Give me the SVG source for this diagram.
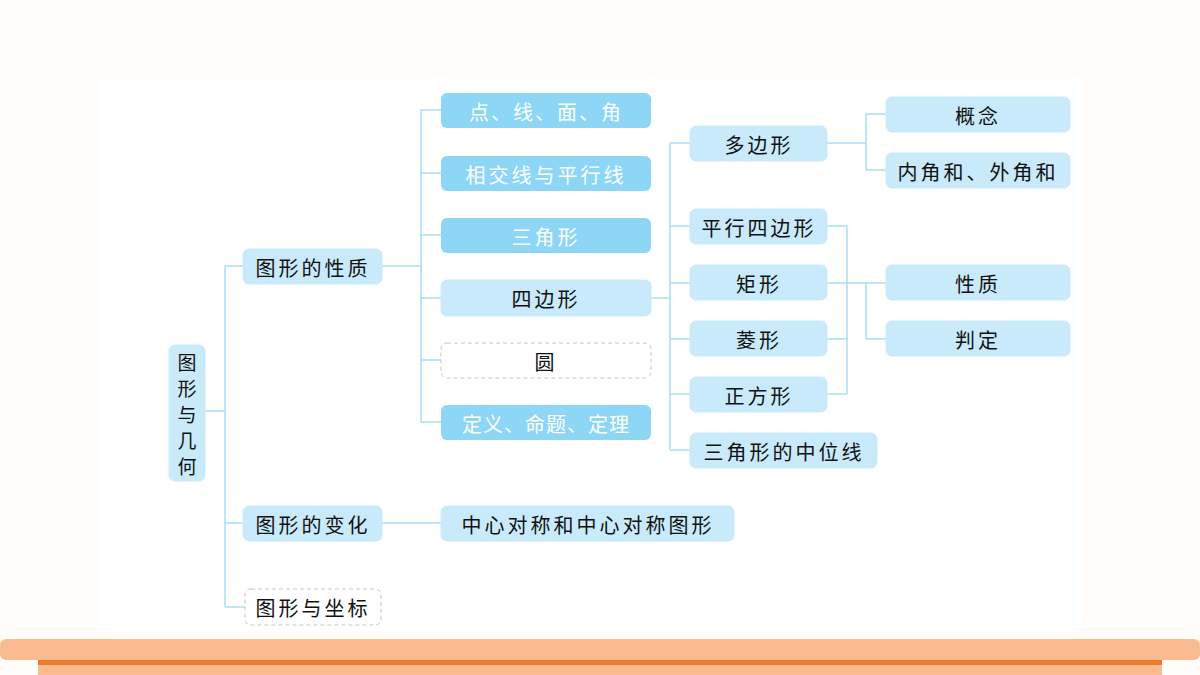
<svg xmlns="http://www.w3.org/2000/svg" width="1200" height="675" viewBox="0 0 1200 675">
<style>
.n{fill:#c8eafa;stroke:#c8eafa}
.d{fill:#8dd6f5}
.x{fill:#fff;stroke:#c4c4c4;stroke-dasharray:4 3}
text{font-family:"Noto Sans CJK SC",sans-serif;font-size:20px;text-anchor:middle;dominant-baseline:central;fill:#111;letter-spacing:3px}
.v{letter-spacing:0;font-size:19px}
.w{fill:#fff}
.c{fill:none;stroke:#a9def6;stroke-width:1.5}
</style>
<rect width="1200" height="675" fill="#fffcf9"/>
<rect x="100" y="78" width="982" height="554" fill="#fff"/>
<rect x="0" y="639" width="1200" height="21" rx="6" fill="#f9bb8f"/>
<rect x="38" y="660" width="1124" height="15" fill="#f9bb8f"/>
<rect x="38" y="660" width="1124" height="5" fill="#ee7a30"/>
<g id="connectors" class="c">
<path d="M205 411H225M225 266V607M225 266H243M225 523H243M225 607H245"/>
<path d="M382 266H421M421 110V422M421 110H441M421 173H441M421 235H441M421 298H441M421 360H441M421 422H441"/>
<path d="M382 523H441"/>
<path d="M651 298H670M670 143V450M670 143H690M670 226H690M670 283H690M670 339H690M670 394H690M670 450H690"/>
<path d="M827 143H866M866 114V170M866 114H886M866 170H886"/>
<path d="M827 226H847M827 283H847M827 339H847M827 394H847M847 226V394M847 283H866M866 283V339M866 283H886M866 339H886"/>
</g>
<g id="root"><rect class="n" x="169" y="345" width="36" height="136" rx="6"/>
<text class="v" x="187" y="361">图</text><text class="v" x="187" y="387">形</text><text class="v" x="187" y="413">与</text><text class="v" x="187" y="439">几</text><text class="v" x="187" y="465">何</text></g>
<g id="xz"><rect class="n" x="243" y="249" width="139" height="35" rx="6"/><text x="313" y="267">图形的性质</text></g>
<g id="bh"><rect class="n" x="243" y="506" width="139" height="35" rx="6"/><text x="313" y="524">图形的变化</text></g>
<g id="zb"><rect class="x" x="245" y="589" width="136" height="36" rx="6"/><text x="313" y="607">图形与坐标</text></g>
<g id="a1"><rect class="d" x="441" y="93" width="210" height="35" rx="6"/><text class="w" x="546" y="111" style="letter-spacing:2px">点、线、面、角</text></g>
<g id="a2"><rect class="d" x="441" y="156" width="210" height="35" rx="6"/><text class="w" x="546" y="174">相交线与平行线</text></g>
<g id="a3"><rect class="d" x="441" y="218" width="210" height="35" rx="6"/><text class="w" x="546" y="236">三角形</text></g>
<g id="a4"><rect class="n" x="441" y="280" width="210" height="36" rx="6"/><text x="546" y="298">四边形</text></g>
<g id="a5"><rect class="x" x="441" y="343" width="210" height="35" rx="6"/><text x="546" y="361">圆</text></g>
<g id="a6"><rect class="d" x="441" y="405" width="210" height="35" rx="6"/><text class="w" x="546" y="423" style="letter-spacing:1px">定义、命题、定理</text></g>
<g id="a7"><rect class="n" x="441" y="506" width="293" height="35" rx="6"/><text x="588" y="524">中心对称和中心对称图形</text></g>
<g id="b1"><rect class="n" x="690" y="126" width="137" height="35" rx="6"/><text x="759" y="144">多边形</text></g>
<g id="b2"><rect class="n" x="690" y="209" width="137" height="35" rx="6"/><text x="759" y="227">平行四边形</text></g>
<g id="b3"><rect class="n" x="690" y="265" width="137" height="35" rx="6"/><text x="759" y="283">矩形</text></g>
<g id="b4"><rect class="n" x="690" y="321" width="137" height="35" rx="6"/><text x="759" y="339">菱形</text></g>
<g id="b5"><rect class="n" x="690" y="377" width="137" height="35" rx="6"/><text x="759" y="395">正方形</text></g>
<g id="b6"><rect class="n" x="690" y="433" width="187" height="35" rx="6"/><text x="784" y="451">三角形的中位线</text></g>
<g id="c1"><rect class="n" x="886" y="97" width="184" height="35" rx="6"/><text x="978" y="115">概念</text></g>
<g id="c2"><rect class="n" x="886" y="153" width="184" height="35" rx="6"/><text x="978" y="171">内角和、外角和</text></g>
<g id="c3"><rect class="n" x="886" y="265" width="184" height="35" rx="6"/><text x="978" y="283">性质</text></g>
<g id="c4"><rect class="n" x="886" y="321" width="184" height="35" rx="6"/><text x="978" y="339">判定</text></g>
</svg>
